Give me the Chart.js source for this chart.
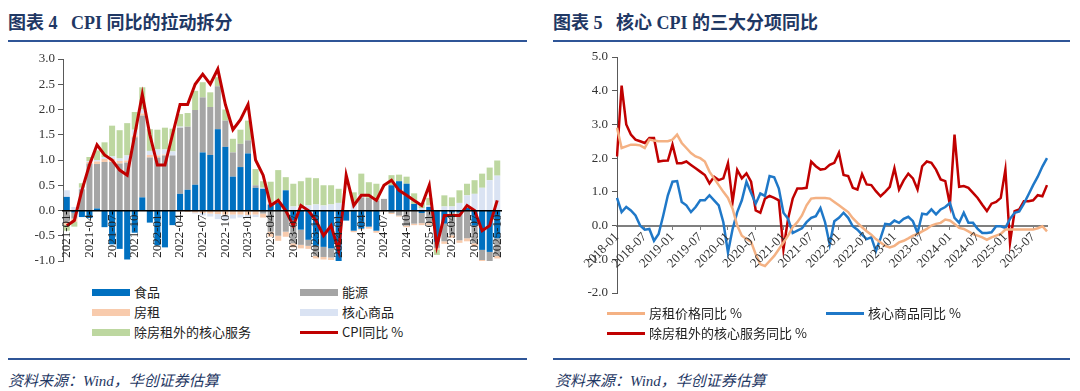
<!DOCTYPE html>
<html>
<head>
<meta charset="utf-8">
<script src="https://cdn.jsdelivr.net/npm/chart.js@4.4.0/dist/chart.umd.min.js"></script>
<style>
    body { margin: 0; width: 1080px; height: 391px; background: #fff; position: relative; overflow: hidden; font-family: "Noto Sans CJK SC", sans-serif; }
    .title { position: absolute; top: 8px; font: bold 18px "Liberation Serif", "Noto Sans CJK SC"; color: #1F3864; white-space: pre; }
    .rule { position: absolute; height: 2px; background: #2F5597; }
    .src { position: absolute; top: 369px; font: italic 15px "Liberation Serif", "Noto Sans CJK SC"; color: #1F3864; }
    .cv { position: absolute; }
    .lg { position: absolute; font-size: 13px; color: #222; line-height: 18px; white-space: nowrap; }
    .lg i { display: inline-block; width: 38px; height: 7px; vertical-align: middle; margin: -2px 4px 0 0; }
    .lg i.ln { height: 3px; }
</style>
</head>
<body>

<div class="title" style="left:8px">图表 4   CPI 同比的拉动拆分</div>
<div class="title" style="left:553px">图表 5   核心 CPI 的三大分项同比</div>
<div class="rule" style="left:8px;width:519px;top:40px"></div>
<div class="rule" style="left:553px;width:517px;top:40px"></div>

<canvas id="leftChart" class="cv" width="540" height="235" style="left:0;top:40px"></canvas>
<canvas id="rightChart" class="cv" width="540" height="270" style="left:540px;top:40px"></canvas>

<div class="lg" style="left:92px;top:283px"><i style="background:#0070C0"></i>食品</div>
<div class="lg" style="left:300px;top:283px"><i style="background:#A5A5A5"></i>能源</div>
<div class="lg" style="left:92px;top:303px"><i style="background:#F8CBAD"></i>房租</div>
<div class="lg" style="left:300px;top:303px"><i style="background:#DAE3F3"></i>核心商品</div>
<div class="lg" style="left:92px;top:323px"><i style="background:#BDD7A0"></i>除房租外的核心服务</div>
<div class="lg" style="left:300px;top:323px"><i class="ln" style="background:#C00000"></i>CPI同比 %</div>

<div class="lg" style="left:607px;top:304px"><i class="ln" style="background:#F4B183"></i>房租价格同比 %</div>
<div class="lg" style="left:826px;top:304px"><i class="ln" style="background:#1F78C8"></i>核心商品同比 %</div>
<div class="lg" style="left:607px;top:324px"><i class="ln" style="background:#C00000"></i>除房租外的核心服务同比 %</div>

<div class="rule" style="left:8px;width:519px;top:358px"></div>
<div class="rule" style="left:553px;width:517px;top:358px"></div>
<div class="src" style="left:8px">资料来源：Wind，华创证券估算</div>
<div class="src" style="left:555px">资料来源：Wind，华创证券估算</div>

<script>
    // ===== Left chart data: 2021-01 .. 2025-10, contributions to CPI yoy (ppt)
    var food = [0.27, -0.04, -0.13, -0.15, 0.04, -0.33, -0.67, -0.76, -0.97, -0.44, 0.26, -0.24,
        -0.69, -0.73, -0.29, 0.33, 0.41, 0.51, 1.15, 1.10, 1.61, 1.26, 0.67, 0.86,
        1.13, 0.45, 0.43, 0.12, 0.15, 0.40, -0.20, -0.38, -0.58, -0.70, -0.72, -0.75,
        -1.05, -0.20, -0.40, -0.36, -0.32, -0.40, 0.00, 0.50, 0.58, 0.53, 0.13, -0.05,
        0.07, -0.62, -0.26, -0.04, -0.04, 0.05, -0.30, -0.78, -0.82, -0.55];
    var energy = [-0.22, -0.12, 0.42, 0.93, 0.88, 0.96, 0.96, 0.93, 0.95, 1.45, 1.62, 1.05,
        1.05, 1.09, 1.09, 1.31, 1.25, 1.48, 1.09, 0.95, 0.85, 0.52, 0.48, 0.46,
        0.26, 0.05, -0.06, -0.42, -0.50, -0.42, -0.45, -0.30, -0.12, -0.20, -0.20, -0.18,
        -0.10, 0.00, 0.00, 0.26, 0.25, 0.20, 0.23, -0.05, -0.10, -0.30, -0.26, -0.20,
        -0.25, -0.12, -0.35, -0.45, -0.55, -0.55, -0.35, -0.20, -0.20, -0.35];
    var rent = [-0.06, -0.06, 0.00, 0.03, 0.05, 0.06, 0.06, 0.05, 0.04, 0.03, 0.04, 0.05,
        0.04, 0.02, 0.00, -0.02, -0.03, -0.04, -0.05, -0.06, -0.07, -0.08, -0.08, -0.08,
        -0.09, -0.08, -0.08, -0.10, -0.10, -0.10, -0.08, -0.07, -0.06, -0.05, -0.05, -0.05,
        -0.04, 0.00, -0.03, -0.02, -0.04, -0.04, -0.02, -0.02, -0.02, -0.03, -0.03, -0.04,
        -0.04, -0.04, -0.05, -0.05, -0.05, -0.06, -0.06, -0.06, -0.05, -0.05];
    var coreGoods = [0.13, 0.07, 0.03, 0.02, 0.03, 0.04, 0.05, 0.05, 0.10, 0.12, 0.08, 0.08,
        0.12, 0.10, 0.08, 0.02, 0.00, -0.02, -0.05, -0.06, -0.10, -0.12, -0.08, -0.06,
        -0.04, -0.05, 0.02, 0.05, 0.05, 0.00, 0.08, 0.08, 0.10, 0.12, 0.10, 0.12,
        0.15, 0.00, 0.18, 0.05, 0.00, 0.00, 0.00, 0.00, 0.00, 0.00, 0.00, 0.05,
        0.03, 0.00, 0.08, 0.08, 0.15, 0.25, 0.33, 0.45, 0.60, 0.69];
    var coreServices = [-0.12, -0.10, 0.09, 0.08, 0.19, 0.29, 0.61, 0.56, 0.64, 0.35, 0.44, 0.43,
        0.39, 0.43, 0.45, 0.25, 0.27, 0.38, 0.30, 0.29, 0.18, 0.22, 0.27, 0.28,
        0.39, 0.32, 0.13, 0.40, 0.60, 0.26, 0.45, 0.50, 0.55, 0.52, 0.40, 0.38,
        0.28, 0.00, 0.18, 0.42, 0.31, 0.33, 0.00, 0.20, 0.13, 0.14, 0.21, 0.10,
        0.15, -0.10, 0.22, 0.18, 0.25, 0.23, 0.27, 0.28, 0.25, 0.30];
    var cpiYoy = [-0.3, -0.2, 0.4, 0.9, 1.3, 1.1, 1.0, 0.8, 0.7, 1.5, 2.3, 1.5,
        0.9, 0.9, 1.5, 2.1, 2.1, 2.5, 2.7, 2.5, 2.8, 2.1, 1.6, 1.8,
        2.1, 1.0, 0.7, 0.1, 0.2, 0.0, -0.3, 0.1, 0.0, -0.2, -0.5, -0.3,
        -0.8, 0.7, 0.1, 0.3, 0.3, 0.2, 0.5, 0.6, 0.4, 0.3, 0.2, 0.1,
        0.5, -0.7, -0.1, -0.1, -0.1, 0.1, 0.0, -0.4, -0.3, 0.2];

    // ===== Right chart data: 2018-01 .. 2025-10, yoy %
    var rentYoy = [2.9, 2.3, 2.35, 2.4, 2.4, 2.38, 2.3, 2.55, 2.52, 2.5, 2.5, 2.5,
        2.55, 2.7, 2.45, 2.3, 2.15, 2.05, 2.0, 1.9, 1.6, 1.4, 1.2, 1.0,
        0.82, 0.5, 0.0, -0.3, -0.4, -0.48, -0.85, -1.15, -1.2, -1.05, -0.9, -0.7,
        -0.5, -0.3, -0.05, 0.1, 0.3, 0.6, 0.8, 0.82, 0.82, 0.82, 0.8, 0.7,
        0.6, 0.5, 0.4, 0.22, 0.08, -0.05, -0.17, -0.27, -0.4, -0.5, -0.6, -0.65,
        -0.6, -0.5, -0.45, -0.38, -0.3, -0.25, -0.17, -0.1, 0.0, 0.05, 0.08, 0.18,
        0.15, 0.05, -0.07, -0.1, -0.17, -0.25, -0.3, -0.35, -0.42, -0.35, -0.3, -0.25,
        -0.12, -0.12, -0.12, -0.12, -0.12, -0.12, -0.12, -0.08, -0.02, -0.17];
    var coreGoodsYoy = [0.82, 0.4, 0.55, 0.45, 0.3, 0.0, -0.12, -0.1, -0.45, -0.25, 0.3, 0.9,
        1.3, 1.32, 0.7, 0.6, 0.4, 0.55, 0.75, 0.75, 0.9, 0.75, 0.6, 0.1,
        -0.8, -0.1, 0.4, 0.75, 1.3, 0.97, 0.65, 0.95, 0.88, 1.47, 1.43, 1.1,
        0.38, 0.2, -0.22, -0.15, -0.08, 0.1, 0.23, 0.28, 0.52, 0.1, -0.56, 0.13,
        0.23, 0.38, 0.23, -0.02, -0.12, -0.27, -0.4, -0.35, -0.76, -0.37, 0.05, 0.03,
        0.15, 0.08, 0.2, 0.26, 0.13, -0.22, 0.35, 0.33, 0.48, 0.33, 0.48, 0.55,
        0.67, 0.23, 0.08, 0.38, 0.08, 0.08, -0.1, -0.22, -0.22, -0.2, -0.02, -0.02,
        -0.07, 0.2, 0.38, 0.42, 0.65, 0.92, 1.2, 1.45, 1.75, 2.0];
    var servicesExRentYoy = [2.05, 4.15, 3.0, 2.7, 2.55, 2.5, 2.45, 2.6, 2.6, 1.9, 1.92, 1.93,
        2.4, 1.85, 1.85, 1.9, 1.8, 1.7, 1.6, 1.5, 1.25, 1.45, 1.35, 1.4,
        1.85, 0.7, 1.65, 1.4, 1.55, 1.3, 0.45, 0.38, 0.8, 0.88, 0.82, 0.75,
        -0.7, 0.2, 0.8, 1.1, 1.1, 1.12, 1.9, 1.76, 1.66, 1.68, 1.8, 1.86,
        2.16, 1.5, 1.47, 1.12, 1.07, 1.53, 1.22, 1.2, 1.02, 0.87, 1.0, 1.15,
        1.7, 1.07, 1.34, 1.54, 1.4, 1.07, 1.76, 1.9, 1.86, 1.66, 1.37, 1.32,
        0.62, 2.7, 1.15, 1.17, 1.12, 0.97, 0.82, 0.62, 0.43, 0.65, 0.7, 0.82,
        1.66, -0.51, 0.43, 0.48, 0.72, 0.72, 0.75, 0.9, 0.87, 1.2];

    function monthLabels(startYear, startMonth, count) {
        var out = [];
        for (var k = 0; k < count; k++) {
            var m = startMonth - 1 + k;
            var y = startYear + Math.floor(m / 12);
            var mm = (m % 12) + 1;
            out.push(y + '-' + (mm < 10 ? '0' + mm : mm));
        }
        return out;
    }
    var leftMonths = monthLabels(2021, 1, food.length);
    var rightMonths = monthLabels(2018, 1, rentYoy.length);

    Chart.defaults.font.family = '"Liberation Serif", "Times New Roman", serif';
    Chart.defaults.font.size = 13;
    Chart.defaults.color = '#333';
    Chart.defaults.animation = false;
    Chart.defaults.plugins.legend.display = false;
    Chart.defaults.plugins.tooltip.enabled = false;

    function everyNth(n) {
        return function (scale) {
            scale.ticks = scale.ticks.filter(function (t, i) { return i % n === 0; });
        };
    }

    function barSet(label, data, color) {
        return { type: 'bar', label: label, data: data, backgroundColor: color, stack: 'parts', order: 1,
            barPercentage: 0.8, categoryPercentage: 1.0 };
    }

    /* ===== Left: CPI contribution breakdown ===== */
    new Chart(document.getElementById('leftChart'), {
        data: {
            labels: leftMonths,
            datasets: [
                barSet('食品', food, '#0070C0'),
                barSet('能源', energy, '#A5A5A5'),
                barSet('房租', rent, '#F8CBAD'),
                barSet('核心商品', coreGoods, '#DAE3F3'),
                barSet('除房租外的核心服务', coreServices, '#BDD7A0'),
                {
                    type: 'line', label: 'CPI同比 %', data: cpiYoy, stack: 'line', order: 0,
                    borderColor: '#C00000', borderWidth: 3, pointRadius: 0, tension: 0, fill: false
                }
            ]
        },
        options: {
            responsive: false,
            layout: { padding: { left: 0, top: 19, right: 39, bottom: 14 } },
            scales: {
                x: {
                    stacked: true,
                    position: { y: 0 },
                    afterBuildTicks: everyNth(3),
                    grid: { display: true, offset: false, drawOnChartArea: false, tickLength: 3, tickColor: '#000', z: 1 },
                    border: { color: '#000', width: 1.5, z: 1 },
                    // z > 0: labels are painted over the bars, like the original
                    ticks: { autoSkip: false, minRotation: 90, maxRotation: 90, padding: 1, color: '#222', z: 1 }
                },
                y: {
                    stacked: true,
                    min: -1, max: 3,
                    afterFit: function (s) { s.width = 63; },
                    grid: { display: true, drawOnChartArea: false, tickLength: 5, tickColor: '#595959' },
                    border: { color: '#595959', width: 1 },
                    ticks: { stepSize: 0.5, padding: 3, callback: function (v) { return v.toFixed(1); } }
                }
            }
        }
    });

    /* ===== Right: three core sub-components ===== */
    function lineSet(label, data, color) {
        return { label: label, data: data, borderColor: color, borderWidth: 2.5, pointRadius: 0, tension: 0, fill: false };
    }

    new Chart(document.getElementById('rightChart'), {
        type: 'line',
        data: {
            labels: rightMonths,
            datasets: [
                lineSet('房租价格同比 %', rentYoy, '#F4B183'),
                lineSet('核心商品同比 %', coreGoodsYoy, '#1F78C8'),
                lineSet('除房租外的核心服务同比 %', servicesExRentYoy, '#C00000')
            ]
        },
        options: {
            responsive: false,
            layout: { padding: { left: 0, top: 17, right: 33, bottom: 17 } },
            scales: {
                x: {
                    offset: false,
                    position: { y: 0 },
                    afterBuildTicks: everyNth(6),
                    grid: { display: true, drawOnChartArea: false, tickLength: 3, tickColor: '#7F7F7F' },
                    border: { color: '#7F7F7F', width: 2 },
                    ticks: { autoSkip: false, minRotation: 45, maxRotation: 45, padding: 1, color: '#333', z: 1 }
                },
                y: {
                    min: -2, max: 5,
                    afterFit: function (s) { s.width = 77; },
                    grid: { display: true, drawOnChartArea: false, tickLength: 5, tickColor: '#595959' },
                    border: { color: '#595959', width: 1 },
                    ticks: { stepSize: 1, padding: 4, callback: function (v) { return v.toFixed(1); } }
                }
            }
        }
    });
</script>
</body>
</html>
